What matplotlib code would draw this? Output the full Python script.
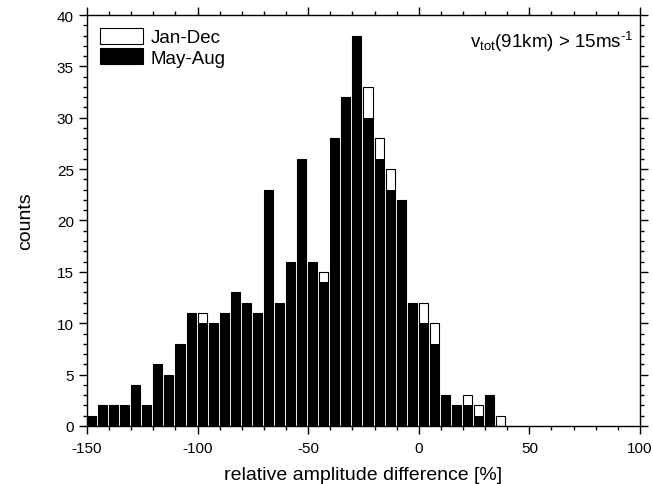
import matplotlib
matplotlib.use("Agg")
import matplotlib.pyplot as plt
from matplotlib.patches import Patch
from matplotlib.ticker import MultipleLocator

plt.rcParams['font.family'] = ['Liberation Sans', 'DejaVu Sans']
plt.rcParams['mathtext.fontset'] = 'custom'
plt.rcParams['mathtext.rm'] = 'Liberation Sans'
plt.rcParams['mathtext.it'] = 'Liberation Sans'
plt.rcParams['mathtext.default'] = 'regular'
plt.rcParams['axes.unicode_minus'] = False

bin_edges = [-150, -145, -140, -135, -130, -125, -120, -115, -110, -105,
             -100, -95, -90, -85, -80, -75, -70, -65, -60, -55,
             -50, -45, -40, -35, -30, -25, -20, -15, -10, -5,
             0, 5, 10, 15, 20, 25, 30, 35]
jan_dec = [1, 2, 2, 2, 4, 2, 6, 5, 8, 11,
           11, 10, 11, 13, 12, 11, 23, 12, 16, 26,
           16, 15, 28, 32, 38, 33, 28, 25, 22, 12,
           12, 10, 3, 2, 3, 2, 3, 1]
may_aug = [1, 2, 2, 2, 4, 2, 6, 5, 8, 11,
           10, 10, 11, 13, 12, 11, 23, 12, 16, 26,
           16, 14, 28, 32, 38, 30, 26, 23, 22, 12,
           10, 8, 3, 2, 2, 1, 3, 0]

fig = plt.figure(figsize=(6.53, 4.85), dpi=100)
ax = fig.add_axes([0.1332, 0.1196, 0.8468, 0.8474])

bw = 4.1
ax.bar(bin_edges, jan_dec, width=bw, align='edge', color='white',
       edgecolor='black', linewidth=0.8)
ax.bar(bin_edges, may_aug, width=bw, align='edge', color='black',
       edgecolor='none', linewidth=0)

ax.set_xlim(-150, 100)
ax.set_ylim(0, 40)
ax.xaxis.set_major_locator(MultipleLocator(50))
ax.xaxis.set_minor_locator(MultipleLocator(10))
ax.yaxis.set_major_locator(MultipleLocator(5))
ax.yaxis.set_minor_locator(MultipleLocator(1))
ax.tick_params(which='both', direction='out', top=True, right=True,
               labelsize=11, width=1)
ax.tick_params(which='major', length=6)
ax.tick_params(which='minor', length=3)
ax.tick_params(axis='x', which='major', pad=5)
for s in ax.spines.values():
    s.set_linewidth(1)

ax.set_xlabel('relative amplitude difference [%]', fontsize=14, labelpad=8)
ax.set_ylabel('counts', fontsize=14, labelpad=16)

handles = [Patch(facecolor='white', edgecolor='black', linewidth=0.8, label='Jan-Dec'),
           Patch(facecolor='black', edgecolor='black', linewidth=0.8, label='May-Aug')]
ax.legend(handles=handles, loc='upper left', frameon=False, fontsize=13.5,
          handlelength=2.3, handleheight=0.9, handletextpad=0.4,
          borderaxespad=0.3, labelspacing=0.1)

ax.text(0.988, 0.965, 'v$_{tot}$(91km) > 15ms$^{\u2010 1}$', transform=ax.transAxes,
        ha='right', va='top', fontsize=13.5)

fig.savefig('out.png', dpi=100)
